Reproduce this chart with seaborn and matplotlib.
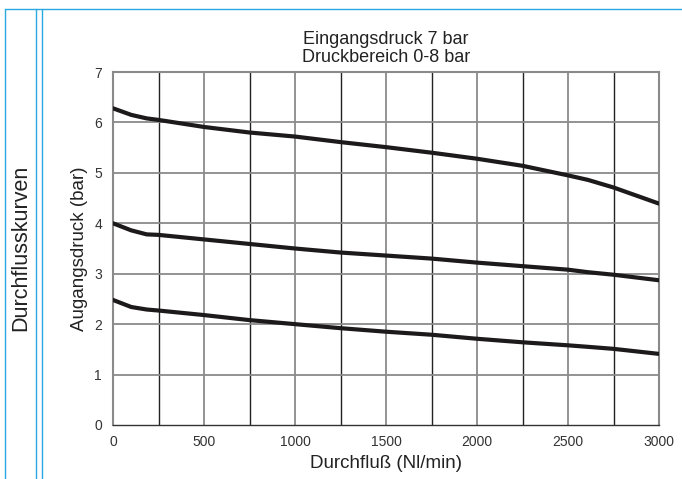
import numpy as np
import pandas as pd
import matplotlib.pyplot as plt
import seaborn as sns
from matplotlib.lines import Line2D

# Flow values (Nl/min) and outlet pressure (bar)
flow = [0, 100, 185, 250, 500, 750, 1000, 1250, 1500, 1750, 2000, 2250, 2500, 2610, 2750, 3000]
p_high = [6.28, 6.15, 6.08, 6.05, 5.91, 5.80, 5.72, 5.61, 5.51, 5.40, 5.28, 5.14, 4.95, 4.86, 4.71, 4.39]
p_mid = [4.00, 3.86, 3.78, 3.77, 3.68, 3.59, 3.50, 3.42, 3.36, 3.30, 3.22, 3.15, 3.08, 3.03, 2.98, 2.87]
p_low = [2.48, 2.34, 2.29, 2.27, 2.18, 2.08, 2.00, 1.92, 1.85, 1.79, 1.71, 1.64, 1.58, 1.55, 1.51, 1.41]

x_ticks = [0, 500, 1000, 1500, 2000, 2500, 3000]
y_ticks = [0, 1, 2, 3, 4, 5, 6, 7]

title_lines = ["Eingangsdruck 7 bar", "Druckbereich 0-8 bar"]

sns.set_style("white")
plt.rcParams["font.family"] = ["Liberation Sans", "DejaVu Sans"]

df = pd.DataFrame({
    "flow": flow * 3,
    "pressure": p_high + p_mid + p_low,
    "curve": ["high"] * len(flow) + ["mid"] * len(flow) + ["low"] * len(flow),
})

fig = plt.figure(figsize=(6.82, 4.79), dpi=100)
ax = fig.add_axes([113 / 682, 1 - 425 / 479, 546 / 682, 353 / 479])

# grid: gray at 500 steps and bar steps, black at the 250 steps in between
for xv in range(500, 3000, 500):
    ax.axvline(xv, color="#8a8a8a", lw=1.3, zorder=1)
for xv in range(250, 3000, 500):
    ax.axvline(xv, color="#222222", lw=1.0, zorder=1)
for yv in range(1, 7):
    ax.axhline(yv, color="#8a8a8a", lw=1.3, zorder=1)

sns.lineplot(
    data=df, x="flow", y="pressure", units="curve", estimator=None,
    color="#1c1a1a", lw=3.0, ax=ax, zorder=3, legend=False,
)

ax.set_xlim(0, 3000)
ax.set_ylim(0, 7)
ax.set_xticks(x_ticks)
ax.set_yticks(y_ticks)
ax.tick_params(axis="both", labelsize=10, colors="#333333")
ax.tick_params(axis="y", length=5, width=1, color="#777777", pad=3)
ax.tick_params(axis="x", length=3, width=1, color="#555555", pad=4.5)

for side in ["left", "top", "right"]:
    ax.spines[side].set_color("#8a8a8a")
    ax.spines[side].set_linewidth(1.5)
ax.spines["bottom"].set_color("#333333")
ax.spines["bottom"].set_linewidth(1.0)

ax.set_xlabel("Durchfluß (Nl/min)", fontsize=13.5, color="#222222", labelpad=4)
ax.set_ylabel("Augangsdruck (bar)", fontsize=13.5, color="#222222", labelpad=4)
ax.set_title("\n".join(title_lines), fontsize=13, color="#222222", pad=7, linespacing=1.12)

# page frame with blue rules
blue = "#2aa8e0"
W, H = 682, 479
fig.add_artist(Line2D([5 / W, 1], [1 - 9.3 / H] * 2, color=blue, lw=1.0, transform=fig.transFigure))
for xp in [5.3, 36.3, 42.3]:
    fig.add_artist(Line2D([xp / W] * 2, [0, 1 - 9.3 / H], color=blue, lw=1.0, transform=fig.transFigure))

fig.text(20.5 / W, 1 - 248 / H, "Durchflusskurven", rotation=90, fontsize=15.5,
         color="#222222", ha="center", va="center")

fig.savefig("out.png", dpi=100)
plt.close(fig)
